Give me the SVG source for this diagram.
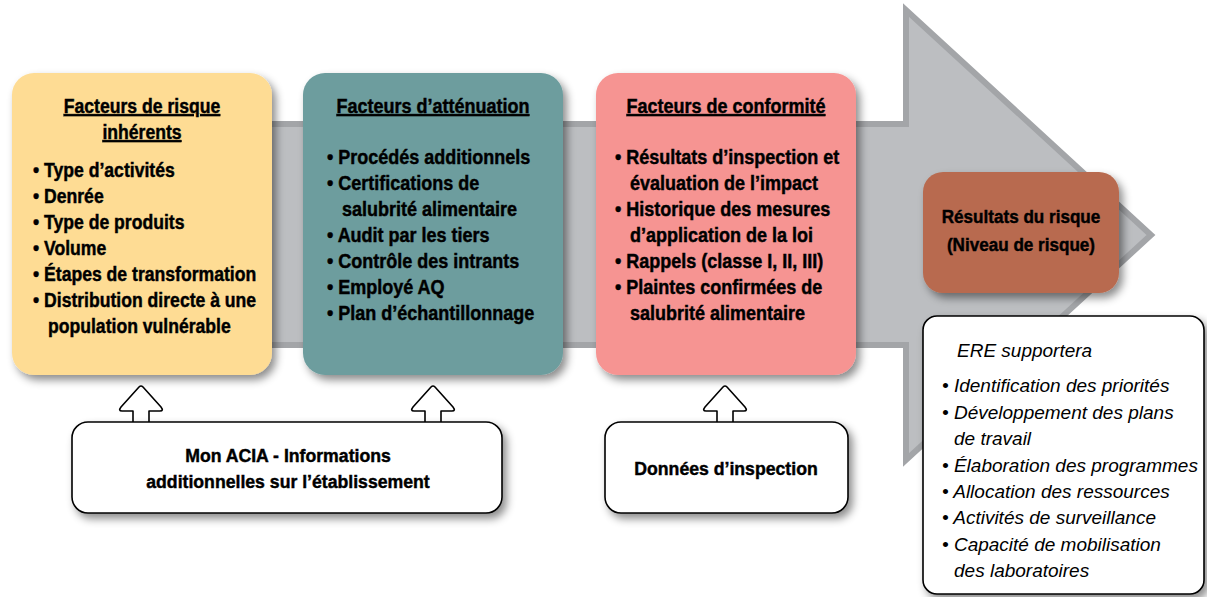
<svg xmlns="http://www.w3.org/2000/svg" width="1207" height="597" viewBox="0 0 1207 597">
<defs>
<filter id="sh" x="-10%" y="-10%" width="130%" height="130%">
<feDropShadow dx="4" dy="5" stdDeviation="4" flood-color="#000" flood-opacity="0.45"/>
</filter>
<style>
.t{font-family:"Liberation Sans",Arial,sans-serif;font-weight:bold;font-size:20px;fill:#000;stroke:#000;stroke-width:0.45}
.s{font-size:19px}
.c{text-anchor:middle}
.u{text-decoration:underline}
.i{font-family:"Liberation Sans",Arial,sans-serif;font-style:italic;font-size:19px;fill:#000}
.wb{fill:#fff;stroke:#000;stroke-width:1.6}
.up{fill:#fff;stroke:#000;stroke-width:1.6;stroke-linejoin:round}
</style>
</defs>
<rect width="1207" height="597" fill="#fff"/>
<g id="big-arrow">
<polygon points="150,124 906,124 906,10 1151,235 906,460 906,345 150,345" fill="#bcbec1" stroke="#a3a5a8" stroke-width="6" stroke-linejoin="miter"/>
</g>
<g id="connectors">
<path class="up" d="M133,422 V411 H122 Q118,411 121,407 L139,387 Q141,385 143,387 L161,407 Q164,411 160,411 H149 V422"/>
<path class="up" d="M425,422 V411 H414 Q410,411 413,407 L431,387 Q433,385 435,387 L453,407 Q456,411 452,411 H441 V422"/>
<path class="up" d="M717,422 V411 H706 Q702,411 705,407 L723,387 Q725,385 727,387 L745,407 Q748,411 744,411 H733 V422"/>
</g>
<g id="node-inherents">
<rect x="12" y="73" width="260" height="302" rx="22" fill="#fedc94" filter="url(#sh)"/>
<text class="t c u" transform="translate(142 113) scale(0.88 1)">Facteurs de risque</text>
<text class="t c u" transform="translate(142 139) scale(0.88 1)">inhérents</text>
<text class="t" transform="translate(33 177) scale(0.88 1)">• Type d’activités</text>
<text class="t" transform="translate(33 203) scale(0.88 1)">• Denrée</text>
<text class="t" transform="translate(33 229) scale(0.88 1)">• Type de produits</text>
<text class="t" transform="translate(33 255) scale(0.88 1)">• Volume</text>
<text class="t" transform="translate(33 281) scale(0.88 1)">• Étapes de transformation</text>
<text class="t" transform="translate(33 307) scale(0.88 1)">• Distribution directe à une</text>
<text class="t" transform="translate(48 333) scale(0.88 1)">population vulnérable</text>
</g>
<g id="node-attenuation">
<rect x="303" y="73" width="260" height="302" rx="22" fill="#6d9d9e" filter="url(#sh)"/>
<text class="t c u" transform="translate(433 113) scale(0.9 1)">Facteurs d’atténuation</text>
<text class="t" transform="translate(327 164) scale(0.9 1)">• Procédés additionnels</text>
<text class="t" transform="translate(327 190) scale(0.9 1)">• Certifications de</text>
<text class="t" transform="translate(342 216) scale(0.9 1)">salubrité alimentaire</text>
<text class="t" transform="translate(327 242) scale(0.9 1)">• Audit par les tiers</text>
<text class="t" transform="translate(327 268) scale(0.9 1)">• Contrôle des intrants</text>
<text class="t" transform="translate(327 294) scale(0.9 1)">• Employé AQ</text>
<text class="t" transform="translate(327 320) scale(0.9 1)">• Plan d’échantillonnage</text>
</g>
<g id="node-conformite">
<rect x="596" y="73" width="260" height="302" rx="22" fill="#f69492" filter="url(#sh)"/>
<text class="t c u" transform="translate(726 113) scale(0.9 1)">Facteurs de conformité</text>
<text class="t" transform="translate(615 164) scale(0.9 1)">• Résultats d’inspection et</text>
<text class="t" transform="translate(630 190) scale(0.9 1)">évaluation de l’impact</text>
<text class="t" transform="translate(615 216) scale(0.9 1)">• Historique des mesures</text>
<text class="t" transform="translate(630 242) scale(0.9 1)">d’application de la loi</text>
<text class="t" transform="translate(615 268) scale(0.9 1)">• Rappels (classe I, II, III)</text>
<text class="t" transform="translate(615 294) scale(0.9 1)">• Plaintes confirmées de</text>
<text class="t" transform="translate(630 320) scale(0.9 1)">salubrité alimentaire</text>
</g>
<g id="node-resultats">
<rect x="923" y="172" width="196" height="121" rx="20" fill="#b86b4f" filter="url(#sh)"/>
<text class="t s c" transform="translate(1021 223) scale(0.9 1)">Résultats du risque</text>
<text class="t s c" transform="translate(1021 251) scale(0.9 1)">(Niveau de risque)</text>
</g>
<g id="node-ere">
<rect class="wb" x="923" y="316" width="281" height="278" rx="14" filter="url(#sh)"/>
<text class="i" x="957" y="357">ERE supportera</text>
<text class="i" x="942" y="392">• Identification des priorités</text>
<text class="i" x="942" y="419">• Développement des plans</text>
<text class="i" x="954" y="445">de travail</text>
<text class="i" x="942" y="472">• Élaboration des programmes</text>
<text class="i" x="942" y="498">• Allocation des ressources</text>
<text class="i" x="942" y="524">• Activités de surveillance</text>
<text class="i" x="942" y="551">• Capacité de mobilisation</text>
<text class="i" x="954" y="577">des laboratoires</text>
</g>
<g id="node-monacia">
<rect class="wb" x="72" y="422" width="430" height="91" rx="16" filter="url(#sh)"/>
<text class="t s c" transform="translate(288 462) scale(0.93 1)">Mon ACIA - Informations</text>
<text class="t s c" transform="translate(288 488) scale(0.93 1)">additionnelles sur l’établissement</text>
</g>
<g id="node-donnees">
<rect class="wb" x="605" y="422" width="243" height="91" rx="16" filter="url(#sh)"/>
<text class="t s c" transform="translate(726 475) scale(0.93 1)">Données d’inspection</text>
</g>
</svg>
